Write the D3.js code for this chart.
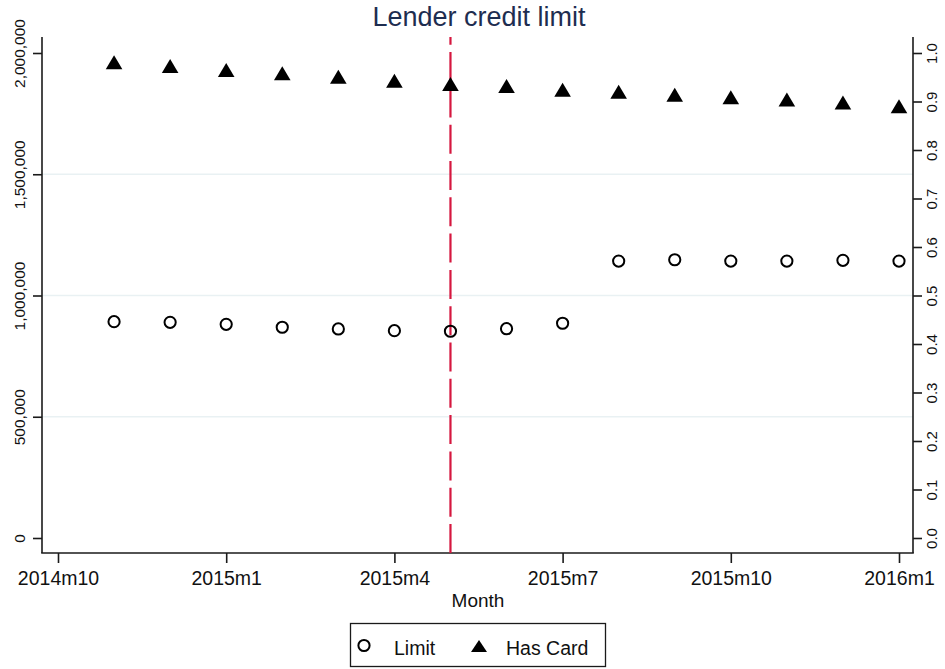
<!DOCTYPE html>
<html>
<head>
<meta charset="utf-8">
<script src="https://cdn.jsdelivr.net/npm/d3@7"></script>
<style>
  html, body { margin: 0; padding: 0; background: #fff; }
  svg { display: block; font-family: "Liberation Sans", Arial, Helvetica, sans-serif; }
</style>
</head>
<body>
<svg id="chart" width="945" height="669"></svg>
<script>
// ---- Data ----
const monthIndex = [1,2,3,4,5,6,7,8,9,10,11,12,13,14,15]; // 2014m11 .. 2016m1 (0 = 2014m10)
const monthLabels = ["2014m11","2014m12","2015m1","2015m2","2015m3","2015m4","2015m5","2015m6","2015m7","2015m8","2015m9","2015m10","2015m11","2015m12","2016m1"];
const limitValues = [892000, 889500, 881000, 869000, 862000, 855000, 852500, 863000, 885500, 1142000, 1147500, 1142000, 1142000, 1145000, 1142000];
const hasCardValues = [0.981, 0.973, 0.965, 0.958, 0.951, 0.943, 0.936, 0.932, 0.924, 0.920, 0.914, 0.909, 0.904, 0.898, 0.890];
const xTickValues = [0, 3, 6, 9, 12, 15];
const xTickLabels = ["2014m10","2015m1","2015m4","2015m7","2015m10","2016m1"];
const leftTickValues = [0, 500000, 1000000, 1500000, 2000000];
const rightTickValues = [0,0.1,0.2,0.3,0.4,0.5,0.6,0.7,0.8,0.9,1.0];
const eventMonth = 7; // 2015m5

// ---- Layout ----
const frame = {left: 42, right: 913, top: 37, bottom: 553};
const svg = d3.select("#chart");

const x = d3.scaleLinear().domain([0, 15]).range([frame.left + 16, frame.right - 14]);
const yL = d3.scaleLinear().domain([0, 2000000]).range([frame.bottom - 15, frame.top + 16]);
const yR = d3.scaleLinear().domain([0, 1]).range([frame.bottom - 15, frame.top + 16]);

const axisColor = "#1a1a1a";

// gridlines
svg.append("g").selectAll("line")
  .data([500000, 1000000, 1500000])
  .join("line")
  .attr("x1", frame.left).attr("x2", frame.right)
  .attr("y1", d => yL(d)).attr("y2", d => yL(d))
  .attr("stroke", "#e9f1f3").attr("stroke-width", 1.6);

// axis frame lines
svg.append("line").attr("x1", frame.left).attr("x2", frame.left).attr("y1", frame.top).attr("y2", frame.bottom)
  .attr("stroke", axisColor).attr("stroke-width", 1.6);
svg.append("line").attr("x1", frame.right).attr("x2", frame.right).attr("y1", frame.top).attr("y2", frame.bottom)
  .attr("stroke", axisColor).attr("stroke-width", 1.6);
svg.append("line").attr("x1", frame.left - 0.8).attr("x2", frame.right + 0.8).attr("y1", frame.bottom).attr("y2", frame.bottom)
  .attr("stroke", axisColor).attr("stroke-width", 1.6);

// left axis
const gL = svg.append("g").attr("transform", `translate(${frame.left},0)`)
  .call(d3.axisLeft(yL).tickValues(leftTickValues).tickSize(9).tickPadding(0)
    .tickFormat(d3.format(",")));
gL.select(".domain").remove();
gL.selectAll(".tick line").attr("stroke", axisColor).attr("stroke-width", 1.6);
gL.selectAll(".tick text")
  .attr("x", null).attr("dy", null)
  .attr("transform", "translate(-17,0) rotate(-90)")
  .attr("text-anchor", "middle")
  .attr("fill", "#111")
  .style("font-size", "15.5px");

// right axis
const gR = svg.append("g").attr("transform", `translate(${frame.right},0)`)
  .call(d3.axisRight(yR).tickValues(rightTickValues).tickSize(9).tickPadding(0)
    .tickFormat(d3.format(".1f")));
gR.select(".domain").remove();
gR.selectAll(".tick line").attr("stroke", axisColor).attr("stroke-width", 1.6);
gR.selectAll(".tick text")
  .attr("x", null).attr("dy", null)
  .attr("transform", "translate(24,0) rotate(-90)")
  .attr("text-anchor", "middle")
  .attr("fill", "#111")
  .style("font-size", "15px");

// bottom axis
const gB = svg.append("g").attr("transform", `translate(0,${frame.bottom})`)
  .call(d3.axisBottom(x).tickValues(xTickValues).tickSize(10).tickPadding(0)
    .tickFormat((d, i) => xTickLabels[i]));
gB.select(".domain").remove();
gB.selectAll(".tick line").attr("stroke", axisColor).attr("stroke-width", 1.6);
gB.selectAll(".tick text")
  .attr("y", 32).attr("dy", null)
  .attr("fill", "#111")
  .style("font-size", "19.5px");

// axis title
svg.append("text")
  .attr("x", (frame.left + frame.right) / 2 + 0.5).attr("y", 607)
  .attr("text-anchor", "middle").attr("fill", "#111")
  .style("font-size", "19px")
  .text("Month");

// title
svg.append("text")
  .attr("x", 479).attr("y", 26)
  .attr("text-anchor", "middle").attr("fill", "#1e2d50")
  .style("font-size", "27px")
  .text("Lender credit limit");

// dashed event line (drawn from bottom up)
svg.append("line")
  .attr("x1", x(eventMonth)).attr("x2", x(eventMonth))
  .attr("y1", frame.bottom).attr("y2", frame.top)
  .attr("stroke", "#d5173f").attr("stroke-width", 2.2)
  .attr("stroke-dasharray", "29,7.3");

// triangle path
const triPath = "M0,-7 L8.3,7 L-8.3,7 Z";

// has card triangles
svg.append("g").selectAll("path")
  .data(monthIndex.map((m, i) => ({m, v: hasCardValues[i], label: monthLabels[i]})))
  .join("path")
  .attr("d", triPath)
  .attr("transform", d => `translate(${x(d.m)},${yR(d.v)})`)
  .attr("fill", "#000");

// limit circles
svg.append("g").selectAll("circle")
  .data(monthIndex.map((m, i) => ({m, v: limitValues[i], label: monthLabels[i]})))
  .join("circle")
  .attr("cx", d => x(d.m)).attr("cy", d => yL(d.v))
  .attr("r", 5.6)
  .attr("fill", "none").attr("stroke", "#000").attr("stroke-width", 2);

// legend
const leg = svg.append("g");
leg.append("rect").attr("x", 350.5).attr("y", 623.5).attr("width", 255).attr("height", 43)
  .attr("fill", "#fff").attr("stroke", axisColor).attr("stroke-width", 1.3);
leg.append("circle").attr("cx", 364).attr("cy", 645.5).attr("r", 5.6)
  .attr("fill", "none").attr("stroke", "#000").attr("stroke-width", 2);
leg.append("text").attr("x", 394).attr("y", 655).attr("fill", "#111")
  .style("font-size", "19.5px").text("Limit");
leg.append("path").attr("d", "M0,-6 L8,6 L-8,6 Z")
  .attr("transform", "translate(479,646)").attr("fill", "#000");
leg.append("text").attr("x", 506).attr("y", 655).attr("fill", "#111")
  .style("font-size", "19.5px").text("Has Card");
</script>
</body>
</html>
